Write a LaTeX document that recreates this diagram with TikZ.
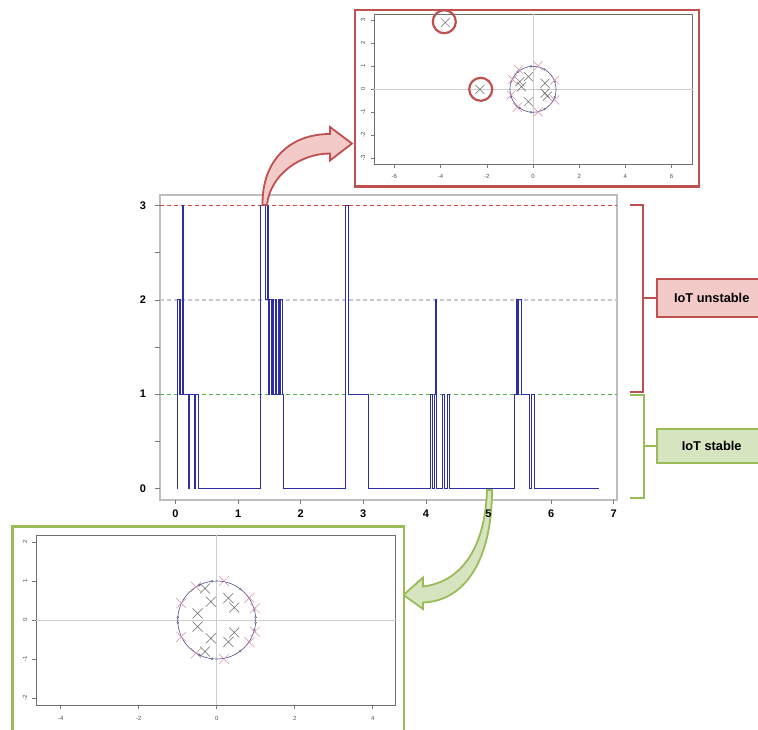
\documentclass[tikz,border=0pt]{standalone}
\usepackage{fontspec}
\setmainfont{Liberation Sans}
\definecolor{rline}{RGB}{192,80,77}
\definecolor{rfill}{RGB}{242,202,200}
\definecolor{gline}{RGB}{155,187,89}
\definecolor{gfill}{RGB}{215,228,192}
\definecolor{sig}{RGB}{45,45,165}
\definecolor{pinkx}{RGB}{214,140,170}
\definecolor{grayx}{RGB}{105,105,105}
\definecolor{circc}{RGB}{80,80,135}
\tikzset{
  mainframe/.style={draw={rgb,255:red,190;green,190;blue,190}, line width=1.5pt},
  insetframe/.style={draw={rgb,255:red,110;green,110;blue,110}, line width=0.8pt},
  zeroaxis/.style={draw={rgb,255:red,205;green,205;blue,205}, line width=0.6pt},
  tickmark/.style={draw={rgb,255:red,120;green,120;blue,120}, line width=0.6pt},
  mainlab/.style={font=\fontsize{11}{13}\selectfont\bfseries, inner sep=0pt},
  smalllab/.style={font=\fontsize{6}{7}\selectfont, text={rgb,255:red,80;green,80;blue,80}, inner sep=0pt},
  levelline/.style={line width=1.2pt, dash pattern=on 4pt off 3pt},
  bracketr/.style={draw=rline, line width=2pt},
  bracketg/.style={draw=gline, line width=2pt},
  statebox/.style={line width=2pt, inner sep=0pt, font=\fontsize{12.8}{14}\selectfont\bfseries},
  gx/.pic={\draw[grayx, line width=0.5pt] (-4.5pt,-4.5pt)--(4.5pt,4.5pt) (-4.5pt,4.5pt)--(4.5pt,-4.5pt);},
  px/.pic={\draw[pinkx, line width=0.5pt] (-4.5pt,-4.5pt)--(4.5pt,4.5pt) (-4.5pt,4.5pt)--(4.5pt,-4.5pt);},
  gxb/.pic={\draw[grayx, line width=0.5pt] (-5pt,-5pt)--(5pt,5pt) (-5pt,5pt)--(5pt,-5pt);},
  pxb/.pic={\draw[pinkx, line width=0.5pt] (-5pt,-5pt)--(5pt,5pt) (-5pt,5pt)--(5pt,-5pt);},
  dotc/.style={draw=circc, line width=0.4pt, fill=white}
}
\begin{document}
\begin{tikzpicture}[x=1pt,y=-1pt]
\useasboundingbox[fill=white] (0,0) rectangle (758,729);

% ---------------- main plot ----------------
\node[mainframe, minimum width=457pt, minimum height=305pt, inner sep=0pt] (mainplot) at (388.5,347.5) {};
\draw[levelline, draw={rgb,255:red,215;green,70;blue,60}] (160,205.6) -- (617,205.6);
\draw[levelline, draw={rgb,255:red,200;green,200;blue,205}] (160,299.9) -- (617,299.9);
\draw[levelline, draw={rgb,255:red,80;green,180;blue,80}] (160,394.2) -- (617,394.2);
% y ticks
\foreach \k in {0,...,6} \draw[tickmark] (155,488.5-47.15*\k) -- (160,488.5-47.15*\k);
\foreach \v in {0,1,2,3} \node[mainlab] (yl\v) at (143,488.5-94.3*\v) {\v};
\foreach \v in {0,...,7} \draw[tickmark] (175.5+62.6*\v,500) -- (175.5+62.6*\v,504);
% signal
\begin{scope}[shift={(175.5pt,-488.5pt)}, x=62.6pt, y=94.3pt]
\draw[sig, line width=1pt, line join=miter]
(0.035,0) -- (0.035,2) -- (0.06,2) -- (0.06,1) -- (0.075,1) -- (0.075,2) -- (0.085,2) -- (0.085,1)
-- (0.11,1) -- (0.11,3) -- (0.125,3) -- (0.125,1) -- (0.215,1) -- (0.215,0) -- (0.23,0) -- (0.23,1)
-- (0.30,1) -- (0.30,0) -- (0.32,0) -- (0.32,1) -- (0.365,1) -- (0.365,0)
-- (1.36,0) -- (1.36,3) -- (1.43,3) -- (1.43,2) -- (1.465,2) -- (1.465,3) -- (1.48,3) -- (1.48,1)
-- (1.50,1) -- (1.50,2) -- (1.53,2) -- (1.53,1) -- (1.55,1) -- (1.55,2) -- (1.57,2) -- (1.57,1)
-- (1.59,1) -- (1.59,2) -- (1.62,2) -- (1.62,1) -- (1.64,1) -- (1.64,2) -- (1.66,2) -- (1.66,1)
-- (1.68,1) -- (1.68,2) -- (1.71,2) -- (1.71,1) -- (1.73,1) -- (1.73,0)
-- (2.72,0) -- (2.72,3) -- (2.76,3) -- (2.76,1) -- (3.08,1) -- (3.08,0)
-- (4.08,0) -- (4.08,1) -- (4.11,1) -- (4.11,0) -- (4.13,0) -- (4.13,1) -- (4.155,1) -- (4.155,2)
-- (4.17,2) -- (4.17,0) -- (4.27,0) -- (4.27,1) -- (4.30,1) -- (4.30,0) -- (4.34,0) -- (4.34,1)
-- (4.37,1) -- (4.37,0)
-- (5.41,0) -- (5.41,1) -- (5.44,1) -- (5.44,2) -- (5.46,2) -- (5.46,1) -- (5.48,1) -- (5.48,2)
-- (5.52,2) -- (5.52,1) -- (5.66,1) -- (5.66,0) -- (5.68,0) -- (5.68,1) -- (5.74,1) -- (5.74,0)
-- (6.77,0);
\end{scope}

% ---------------- brackets and state boxes ----------------
\node[statebox, draw=rline, fill=rfill, minimum width=110pt, minimum height=37.4pt] (unstable) at (711.7,298) {IoT unstable};
\node[statebox, draw=gline, fill=gfill, minimum width=110pt, minimum height=33.4pt] (stable) at (711.7,446) {IoT stable};
\coordinate (rb1) at (630,205);
\coordinate (rb2) at (643.3,205);
\coordinate (rb3) at (643.3,391.5);
\coordinate (rb4) at (630,391.5);
\coordinate (rbm) at (643.3,298);
\draw[bracketr] (rb1) -- (rb2) -- (rb3) -- (rb4);
\draw[bracketr] (rbm) -- (unstable.west);
\coordinate (gb1) at (630,394.5);
\coordinate (gb2) at (644,394.5);
\coordinate (gb3) at (644,498.3);
\coordinate (gb4) at (630,498.3);
\coordinate (gbm) at (644,446);
\draw[bracketg] (gb1) -- (gb2) -- (gb3) -- (gb4);
\draw[bracketg] (gbm) -- (stable.west);

% ---------------- curved block arrows ----------------
\coordinate (ta1) at (262.5,205);
\coordinate (ta2) at (267,205);
\draw[rline, line width=1.8pt, fill=rfill, line join=miter]
  (ta1) .. controls (262,160) and (290,134) .. (330,134) -- (330,127) -- (352,143.5) -- (330,160.5)
  -- (330,153.5) .. controls (300,153.5) and (270,175) .. (ta2) -- cycle;
\coordinate (ba1) at (487,490);
\coordinate (ba2) at (492,490);
\draw[gline, line width=1.8pt, fill=gfill, line join=miter]
  (ba2) .. controls (492,560) and (465,601) .. (423,602.5) -- (423,609) -- (403.5,595) -- (423,577.5)
  -- (423,586.5) .. controls (460,582) and (485,550) .. (ba1) -- cycle;
% x tick labels over the arrow
\foreach \v in {0,...,7} \node[mainlab] (xl\v) at (175.5+62.6*\v,513.5) {\v};

% ---------------- top inset ----------------
\fill[white] (355,10) rectangle (699,186.5);
\draw[insetframe] (374.3,14.3) rectangle (692.7,164.3);
\draw[zeroaxis] (533,14.3) -- (533,164.3);
\draw[zeroaxis] (374.3,89.3) -- (692.7,89.3);
\foreach \v in {-3,...,3} {
  \draw[tickmark] (370.5,89.3-23*\v) -- (374.3,89.3-23*\v);
  \node[smalllab, rotate=90] at (363,89.3-23*\v) {\v};
}
\foreach \v in {-6,-4,...,6} {
  \draw[tickmark] (533+23.1*\v,164.3) -- (533+23.1*\v,168.3);
  \node[smalllab] at (533+23.1*\v,176) {\v};
}
\begin{scope}[shift={(533pt,-89.3pt)}, x=23.1pt, y=23pt]
\draw[circc, line width=0.6pt] (0,0) circle[radius=1];
\foreach \a in {20,60,95,130,160,200,235,265,300,340} \draw[dotc] ({cos(\a)},{sin(\a)}) circle[radius=0.9pt];
\foreach \p in {(-0.57,0.33),(-0.2,0.55),(-0.5,0.11),(-0.2,-0.54),(0.52,0.26),(0.52,-0.17),(0.62,-0.3),(-3.8,2.9),(-2.3,0)}
  \pic at \p {gx};
\foreach \p in {(0.22,1.02),(0.94,0.40),(0.94,-0.46),(0.22,-0.98),(-0.94,-0.25),(-0.88,0.42),(-0.62,0.85),(-0.68,-0.78)}
  \pic at \p {px};
\end{scope}
\node[draw=rline, line width=2.2pt, circle, minimum size=23pt, inner sep=0pt] (out1) at (444.3,21.7) {};
\node[draw=rline, line width=2.2pt, circle, minimum size=23pt, inner sep=0pt] (out2) at (480.7,89.3) {};
\node[draw=rline, line width=2.5pt, minimum width=344pt, minimum height=176.5pt, inner sep=0pt] (topinset) at (527,98.25) {};

% ---------------- bottom inset ----------------
\fill[white] (12.7,526.7) rectangle (404,735);
\draw[insetframe] (36,535) rectangle (395.7,705);
\draw[zeroaxis] (216.7,535) -- (216.7,705);
\draw[zeroaxis] (36,620) -- (395.7,620);
\foreach \v in {-2,...,2} {
  \draw[tickmark] (32,620-39*\v) -- (36,620-39*\v);
  \node[smalllab, rotate=90] at (25,620-39*\v) {\v};
}
\foreach \v in {-4,-2,...,4} {
  \draw[tickmark] (216.7+39*\v,705) -- (216.7+39*\v,709);
  \node[smalllab] at (216.7+39*\v,718.3) {\v};
}
\begin{scope}[shift={(216.7pt,-620pt)}, x=39pt, y=39pt]
\draw[circc, line width=0.6pt] (0,0) circle[radius=1];
\foreach \a in {4,15,53,97,117,243,263,307,345,356,176,184} \draw[dotc] ({cos(\a)},{sin(\a)}) circle[radius=1pt];
\foreach \p in {(-0.3,0.81),(-0.15,0.47),(-0.49,0.17),(-0.49,-0.17),(-0.15,-0.47),(-0.3,-0.81),(0.3,0.56),(0.45,0.32),(0.45,-0.32),(0.3,-0.56)}
  \pic at \p {gxb};
\foreach \p in {(-0.53,0.85),(0.19,1.0),(0.84,0.57),(0.98,0.3),(-0.91,0.43),(-0.91,-0.43),(-0.53,-0.85),(0.19,-1.0),(0.84,-0.57),(0.98,-0.3)}
  \pic at \p {pxb};
\end{scope}
\draw[gline, line width=2.5pt] (12.7,735) -- (12.7,526.7) -- (404,526.7) -- (404,735);
\coordinate (bottominset) at (208,630);
\end{tikzpicture}
\end{document}
